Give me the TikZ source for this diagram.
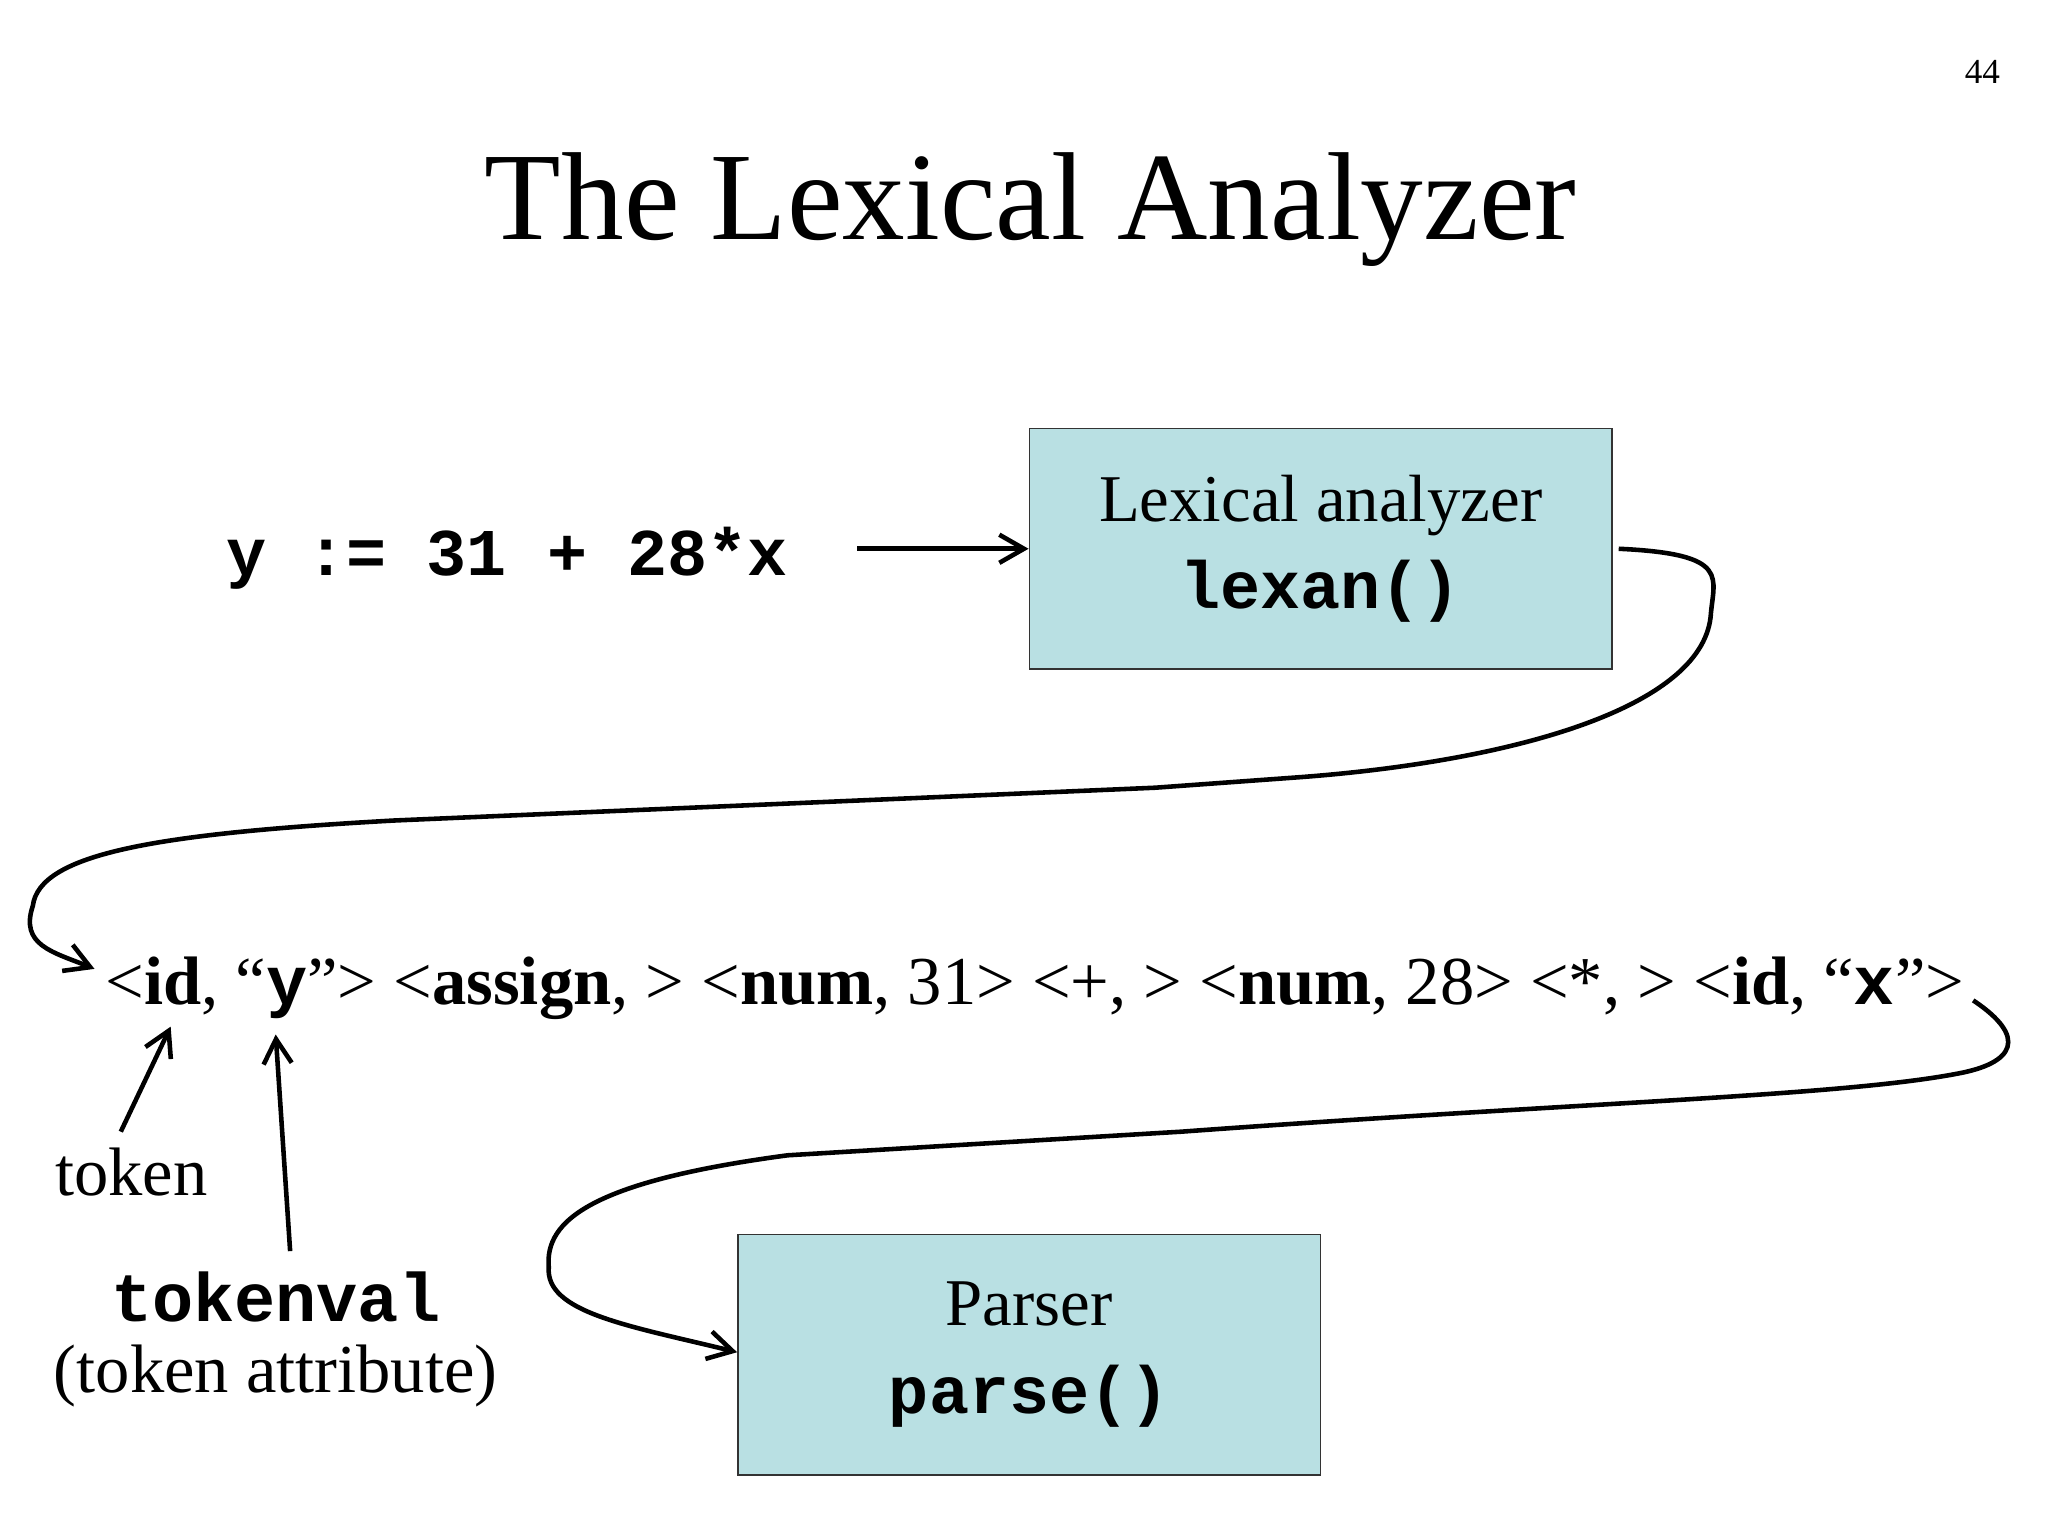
\documentclass[tikz,border=0pt]{standalone}
\usepackage{fontspec}
\setmainfont{Liberation Serif}
\setmonofont{Liberation Mono}
\usetikzlibrary{arrows.meta}
\definecolor{boxc}{HTML}{B9E0E3}
\begin{document}
\begin{tikzpicture}[x=0.01313cm,y=-0.01313cm,
  box/.style={draw=black!80,fill=boxc,minimum width=444*0.01313cm,minimum height=183*0.01313cm,align=center,font=\fontsize{19}{27}\selectfont},
  lbl/.style={font=\fontsize{19.5}{22}\selectfont,inner sep=0pt},
  arr/.style={line width=1.3pt,-{Straight Barb[length=7pt,width=8pt]}}]
\useasboundingbox (0,0) rectangle (1560,1170);
\node[font=\fontsize{10}{12}\selectfont] (pg) at (1510,55) {44};
\node[font=\fontsize{35.6}{40}\selectfont] (title) at (785,160) {The Lexical Analyzer};
\node[box] (lex) at (1006,418) {Lexical analyzer\\[-2pt]\texttt{\bfseries lexan()}};
\node[box] (par) at (784,1032) {Parser\\[-2pt]\texttt{\bfseries parse()}};
\node[font=\fontsize{19}{22}\selectfont\ttfamily\bfseries,anchor=west] (code) at (163,425) {y := 31 + 28*x};
\coordinate (ca) at (653,418);
\draw[arr] (ca) -- (lex.west);
\node[lbl,anchor=base west] (toks) at (80,765) {<\textbf{id}, “\textbf{\texttt{y}}”> <\textbf{assign}, > <\textbf{num}, 31> <+, > <\textbf{num}, 28> <*, > <\textbf{id}, “\textbf{\texttt{x}}”>};
\coordinate (s1) at (1233,418);
\coordinate (e1) at (72,738);
\draw[arr] (s1) .. controls (1320,422) and (1305,440) .. (1303,470)
  .. controls (1295,540) and (1150,580) .. (990,592)
  -- (880,600) -- (300,625)
  .. controls (120,635) and (30,650) .. (25,690)
  .. controls (15,720) and (40,725) .. (e1);
\coordinate (s2) at (1503,762);
\draw[arr] (s2) .. controls (1545,790) and (1535,810) .. (1490,818)
  .. controls (1400,835) and (1200,840) .. (900,862)
  -- (600,880)
  .. controls (450,900) and (415,930) .. (418,965)
  .. controls (415,1000) and (480,1010) .. (par.west |- 0,1030);
\node[lbl] (tok) at (100,893) {token};
\node[font=\fontsize{19.5}{22}\selectfont\ttfamily\bfseries] (tv) at (210,988) {tokenval};
\node[lbl] (ta) at (210,1048) {(token attribute)};
\coordinate (t1) at (92,862);
\coordinate (t2) at (130,782);
\draw[arr] (t1) -- (t2);
\coordinate (v1) at (221,953);
\coordinate (v2) at (210,788);
\draw[arr] (v1) -- (v2);
\end{tikzpicture}
\end{document}
